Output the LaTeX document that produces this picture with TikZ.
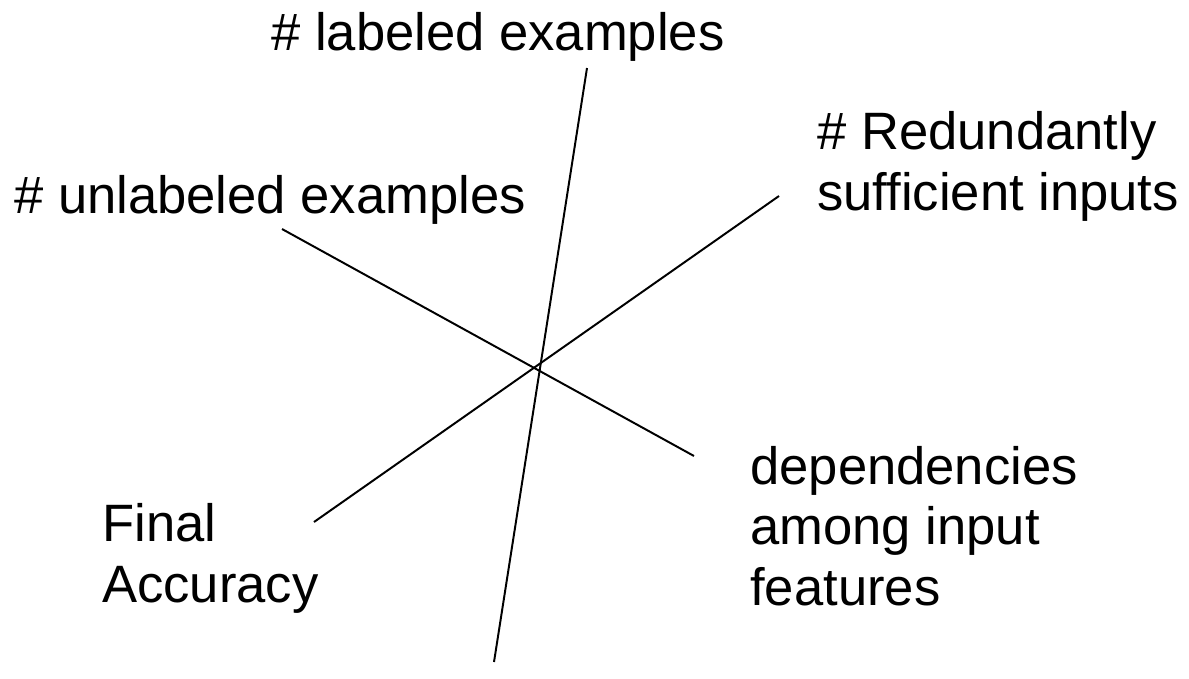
\documentclass[tikz,border=0pt]{standalone}
\usepackage{fontspec}
\setmainfont{Liberation Sans}
\tikzset{
  axislabel/.style={anchor=base west, inner sep=0pt, align=left,
    font=\fontsize{37.4pt}{43pt}\selectfont},
  axisline/.style={line width=1.4pt, black}
}
\begin{document}
\begin{tikzpicture}[x=0.025cm, y=-0.025cm]
            \useasboundingbox (0,0) rectangle (1189,678);
            \coordinate (lab top) at (587,68);
            \coordinate (lab bot) at (494,662);
            \coordinate (unl top) at (282,229);
            \coordinate (unl bot) at (694,456);
            \coordinate (acc bot) at (314,522);
            \coordinate (acc top) at (779,196);
            \draw[axisline] (lab top) -- (lab bot);
            \draw[axisline] (unl top) -- (unl bot);
            \draw[axisline] (acc bot) -- (acc top);
            % multi-line labels sit on the baseline of their last line
            \node[axislabel] (labeled) at (271,50) {\# labeled examples};
            \node[axislabel] (unlabeled) at (14,213) {\# unlabeled examples};
            \node[axislabel] (redundant) at (817,210) {\# Redundantly\\sufficient inputs};
            \node[axislabel] (depend) at (750,605) {dependencies\\among input\\features};
            \node[axislabel] (accuracy) at (102,602) {Final\\Accuracy};
        \end{tikzpicture}
\end{document}
